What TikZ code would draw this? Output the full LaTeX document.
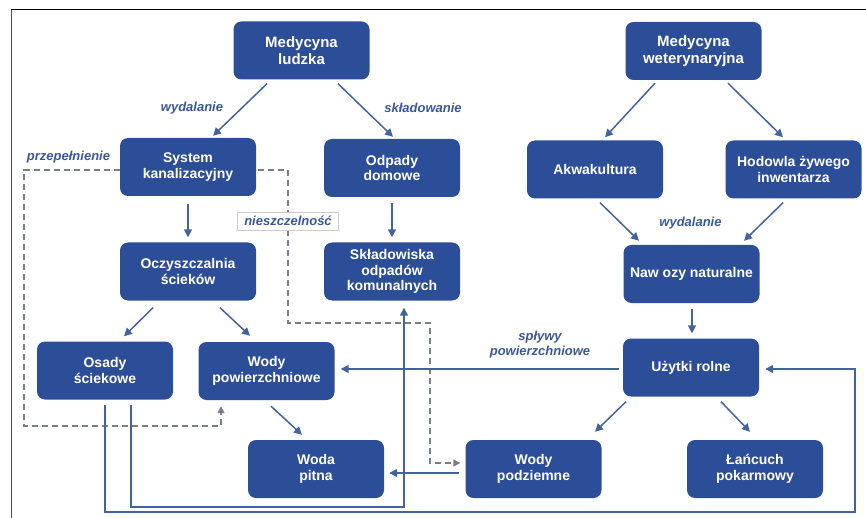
\documentclass[tikz,border=0pt]{standalone}
\usepackage{fontspec}
\setmainfont{Liberation Sans}
\usetikzlibrary{arrows.meta,calc}
\definecolor{boxblue}{RGB}{44,78,152}
\definecolor{lblblue}{RGB}{58,88,150}
\definecolor{linkblue}{RGB}{68,98,160}
\definecolor{dashgray}{RGB}{120,125,135}
\tikzset{
  box/.style={rectangle, rounded corners=8pt, fill=boxblue, text=white,
    minimum width=136pt, minimum height=58pt, inner sep=2pt, align=center,
    font=\fontsize{14}{15.5}\selectfont\bfseries},
  topbox/.style={box, font=\fontsize{15}{17.5}\selectfont\bfseries},
  lbl/.style={text=lblblue, align=center, inner sep=1pt,
    font=\fontsize{13}{15}\selectfont\bfseries\itshape},
  arr/.style={draw=linkblue, line width=1.5pt,
    -{Triangle[length=8pt,width=8pt]}},
  dlink/.style={draw=dashgray, line width=1.4pt, dash pattern=on 6pt off 4pt,
    -{Triangle[length=7pt,width=7pt]}},
}
\begin{document}
\begin{tikzpicture}[x=1pt,y=-1pt]
\useasboundingbox (0,0) rectangle (866,518);
% frame
\draw[black, line width=1pt] (11,10) -- (866,10);
\draw[black!70, line width=1pt] (11,10) -- (11,518);

% nodes
\node[topbox] (medl) at (301.5,50.5) {Medycyna\\ludzka};
\node[topbox] (medw) at (693.5,51) {Medycyna\\weterynaryjna};
\node[box] (sys) at (188,167) {System\\kanalizacyjny};
\node[box] (odp) at (392,168) {Odpady\\domowe};
\node[box] (akw) at (595,169.5) {Akwakultura};
\node[box] (hod) at (793.5,169.5) {Hodowla żywego\\inwentarza};
\node[box] (ocz) at (188,271.5) {Oczyszczalnia\\ścieków};
\node[box] (skl) at (392,271.5) {Składowiska\\odpadów\\komunalnych};
\node[box] (naw) at (691.5,274) {Naw ozy naturalne};
\node[box] (osa) at (105,370.5) {Osady\\ściekowe};
\node[box] (wpow) at (266.5,371) {Wody\\powierzchniowe};
\node[box] (uzy) at (691,367.5) {Użytki rolne};
\node[box] (wpit) at (316,469) {Woda\\pitna};
\node[box] (wpod) at (533.5,469) {Wody\\podziemne};
\node[box] (lan) at (755,469) {Łańcuch\\pokarmowy};

% labels
\node[lbl] (l1) at (192,108) {wydalanie};
\node[lbl] (l2) at (423,108) {składowanie};
\node[lbl] (l3) at (68.5,157) {przepełnienie};
\node[lbl] (l4) at (690.5,223) {wydalanie};
\node[lbl] (l5) at (540,345) {spływy\\powierzchniowe};

% dashed connectors
\coordinate (d1a) at (24,170);
\coordinate (d1b) at (221,426);
\draw[dlink] ([yshift=-3pt]sys.west) -- (d1a) |- (d1b) -- ([xshift=-45.5pt,yshift=-6pt]wpow.south);
\coordinate (d2a) at (288,323);
\coordinate (d2b) at (430,463);
\draw[dlink] ([xshift=2pt,yshift=-3pt]sys.east) -| (d2a) -| (d2b) -- ([xshift=-5pt,yshift=6pt]wpod.west);
\node[lbl, fill=white, draw=black!20, line width=0.4pt, minimum width=101pt, minimum height=18pt] (l6) at (288,221) {nieszczelność};

% solid connectors
\draw[arr] ([xshift=-34.5pt,yshift=-4pt]medl.south) -- ([xshift=25pt,yshift=2pt]sys.north);
\draw[arr] ([xshift=36.5pt,yshift=-4pt]medl.south) -- ([xshift=1pt,yshift=2pt]odp.north);
\draw[arr] ([yshift=-8pt]sys.south) -- ([yshift=5pt]ocz.north);
\draw[arr] ([yshift=-6pt]odp.south) -- ([yshift=5pt]skl.north);
\draw[arr] ([xshift=-35pt,yshift=-7pt]ocz.south) -- ([xshift=19pt,yshift=5pt]osa.north);
\draw[arr] ([xshift=32pt,yshift=-7pt]ocz.south) -- ([xshift=-16.5pt,yshift=6pt]wpow.north);
\draw[arr] ([xshift=4.5pt,yshift=-6pt]wpow.south) -- ([xshift=-14pt,yshift=5pt]wpit.north);
\draw[arr] ([xshift=-38.5pt,yshift=-3pt]medw.south) -- ([xshift=10pt,yshift=3pt]akw.north);
\draw[arr] ([xshift=34.5pt,yshift=-3pt]medw.south) -- ([xshift=-10.5pt,yshift=3pt]hod.north);
\draw[arr] ([xshift=5pt,yshift=-4pt]akw.south) -- ([xshift=-52.5pt,yshift=4pt]naw.north);
\draw[arr] ([xshift=-10.5pt,yshift=-4pt]hod.south) -- ([xshift=52.5pt,yshift=4pt]naw.north);
\draw[arr] ([xshift=0.5pt,yshift=-6pt]naw.south) -- ([xshift=1pt,yshift=5pt]uzy.north);
\draw[arr] ([xshift=-4pt,yshift=-1.5pt]uzy.west) -- ([xshift=6pt,yshift=2pt]wpow.east);
\draw[arr] ([xshift=-65pt,yshift=-5pt]uzy.south) -- ([xshift=61.5pt,yshift=8pt]wpod.north);
\draw[arr] ([xshift=30pt,yshift=-5pt]uzy.south) -- ([xshift=-5pt,yshift=8pt]lan.north);
\draw[arr] ([xshift=-6pt,yshift=-4pt]wpod.west) -- ([xshift=5pt,yshift=-4pt]wpit.east);
\coordinate (c1) at (131,507);
\coordinate (c2) at (404,507);
\draw[arr] ([xshift=26pt,yshift=-5pt]osa.south) -- (c1) -- (c2) -- ([xshift=12pt,yshift=-7pt]skl.south);
\coordinate (e1) at (105,512);
\coordinate (e2) at (855,512);
\coordinate (e3) at (855,369);
\draw[arr] ([yshift=-5pt]osa.south) -- (e1) -- (e2) -- (e3) -- ([xshift=6pt,yshift=-1.5pt]uzy.east);
\end{tikzpicture}
\end{document}
